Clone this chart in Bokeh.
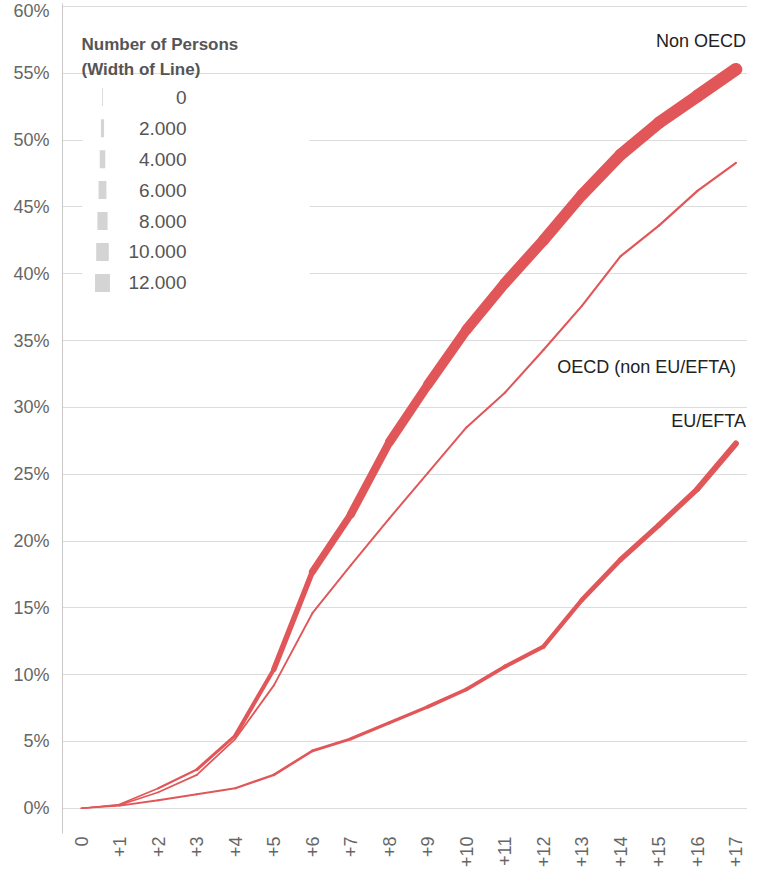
import math
from bokeh.plotting import figure
from bokeh.models import FixedTicker, Range1d
from bokeh.core.properties import value
from bokeh.embed import file_html
from bokeh.resources import INLINE

# ---------------- data ----------------
years = list(range(18))
x_labels = ["0"] + ["+%d" % i for i in range(1, 18)]

non_oecd = [0.0, 0.3, 1.5, 2.9, 5.45, 10.4, 17.7, 22.0, 27.4, 31.7, 35.8, 39.3, 42.5, 45.9, 48.9, 51.3, 53.3, 55.3]
oecd = [0.0, 0.25, 1.2, 2.5, 5.2, 9.2, 14.6, 18.2, 21.7, 25.1, 28.5, 31.1, 34.3, 37.6, 41.3, 43.6, 46.2, 48.3]
eu_efta = [0.0, 0.2, 0.6, 1.05, 1.5, 2.5, 4.3, 5.2, 6.4, 7.6, 8.9, 10.6, 12.1, 15.6, 18.6, 21.2, 23.9, 27.3]

# number of persons (drives line width)
non_oecd_persons = [200, 600, 1000, 1500, 2300, 3400, 4700, 5800, 6700, 7400, 8000, 8400, 8800, 9100, 9400, 9700, 10000, 10400]
oecd_persons = [600, 700, 750, 800, 850, 900, 950, 1000, 1000, 1050, 1050, 1100, 1100, 1150, 1150, 1200, 1200, 1250]
eu_efta_persons = [600, 800, 1000, 1100, 1200, 1400, 1700, 1900, 2100, 2300, 2500, 2700, 2900, 3200, 3500, 3800, 4100, 4600]

series_names = ["EU/EFTA", "OECD (non EU/EFTA)", "Non OECD"]

legend_values = [0, 2000, 4000, 6000, 8000, 10000, 12000]
legend_labels = ["0", "2.000", "4.000", "6.000", "8.000", "10.000", "12.000"]

y_ticks = list(range(0, 61, 5))
y_tick_labels = ["%d%%" % t for t in y_ticks]

# ---------------- styling / layout ----------------
RED = "#e15759"
FONT = "Liberation Sans"


def width_of(persons):
    return 0.8 + persons / 850.0


X0, X1 = -0.489, 17.3
Y0, Y1 = -1.887, 60.226
FRAME_L, FRAME_T, FRAME_W, FRAME_H = 63, 10, 685, 823


def px2x(px):
    return X0 + (px - FRAME_L) * (X1 - X0) / FRAME_W


def px2y(py):
    return Y1 - (py - FRAME_T) * (Y1 - Y0) / FRAME_H


p = figure(width=747, height=870, output_backend="svg", toolbar_location=None,
           x_range=Range1d(X0, X1), y_range=Range1d(Y0, Y1),
           min_border_left=0, min_border_right=0, min_border_top=3, min_border_bottom=0)
p.outline_line_color = None
p.background_fill_color = "white"
p.border_fill_color = "white"

# axes
p.xaxis.ticker = FixedTicker(ticks=years)
p.xaxis.major_label_overrides = {y: l for y, l in zip(years, x_labels)}
p.xaxis.major_label_orientation = math.pi / 2
p.xaxis.axis_line_color = None
p.xaxis.major_tick_line_color = None
p.xaxis.minor_tick_line_color = None
p.xaxis.major_tick_out = 0
p.xaxis.major_tick_in = 0
p.xaxis.minor_tick_out = 0
p.xaxis.major_label_standoff = 3
p.xaxis.major_label_text_font = FONT
p.xaxis.major_label_text_font_size = "18px"
p.xaxis.major_label_text_color = "#666666"

p.yaxis.ticker = FixedTicker(ticks=y_ticks)
p.yaxis.major_label_overrides = {t: l for t, l in zip(y_ticks, y_tick_labels)}
p.yaxis.axis_line_color = "#c8c8c8"
p.yaxis.major_tick_line_color = None
p.yaxis.minor_tick_line_color = None
p.yaxis.major_tick_out = 0
p.yaxis.major_tick_in = 0
p.yaxis.minor_tick_out = 0
p.yaxis.major_label_standoff = 13
p.yaxis.major_label_text_font = FONT
p.yaxis.major_label_text_font_size = "18px"
p.yaxis.major_label_text_color = "#666666"
# blank axis label only to reserve a little room left of the tick labels
p.yaxis.axis_label = " "
p.yaxis.axis_label_text_font_size = "7px"
p.yaxis.axis_label_standoff = 0

p.xgrid.grid_line_color = None
p.ygrid.grid_line_color = "#dcdcdc"
p.ygrid.grid_line_width = 1

# legend white background (hides gridlines)
p.quad(left=[px2x(83)], right=[px2x(310)], top=[px2y(84)], bottom=[px2y(302)],
       fill_color="white", line_color=None)

# ---------------- lines with varying width ----------------
for vals, persons in [(eu_efta, eu_efta_persons), (oecd, oecd_persons), (non_oecd, non_oecd_persons)]:
    x0 = years[:-1]
    x1 = years[1:]
    y0 = vals[:-1]
    y1 = vals[1:]
    w = [width_of((persons[i] + persons[i + 1]) / 2.0) for i in range(len(vals) - 1)]
    p.segment(x0=x0, y0=y0, x1=x1, y1=y1, line_width=w, line_color=RED, line_cap="round")

# series labels
label_vals = [eu_efta[-1], oecd[-1], non_oecd[-1]]
p.text(x=[years[-1]] * 3, y=label_vals, text=series_names,
       x_offset=[10, 0, 10], y_offset=[-22, 204, -28],
       text_align="right", text_baseline="middle",
       text_font=value(FONT), text_font_size="18px", text_color="#222222")

# ---------------- width legend ----------------
row_px = [103 + 30.67 * i for i in range(len(legend_values))]
p.rect(x=[px2x(103)] * len(legend_values), y=[px2y(r) for r in row_px],
       width=[width_of(v) for v in legend_values], height=18,
       width_units="screen", height_units="screen",
       fill_color="#d4d4d4", line_color=None)
p.text(x=[px2x(187)] * len(legend_values), y=[px2y(r) for r in row_px], text=legend_labels,
       text_align="right", text_baseline="middle",
       text_font=value(FONT), text_font_size="19px", text_color="#555555")
p.text(x=[px2x(82), px2x(82)], y=[px2y(51), px2y(75)],
       text=["Number of Persons", "(Width of Line)"],
       text_align="left", text_baseline="middle",
       text_font=value(FONT), text_font_size="17px", text_font_style="bold",
       text_color="#555555")

open("out.html", "w").write(file_html(p, INLINE))
